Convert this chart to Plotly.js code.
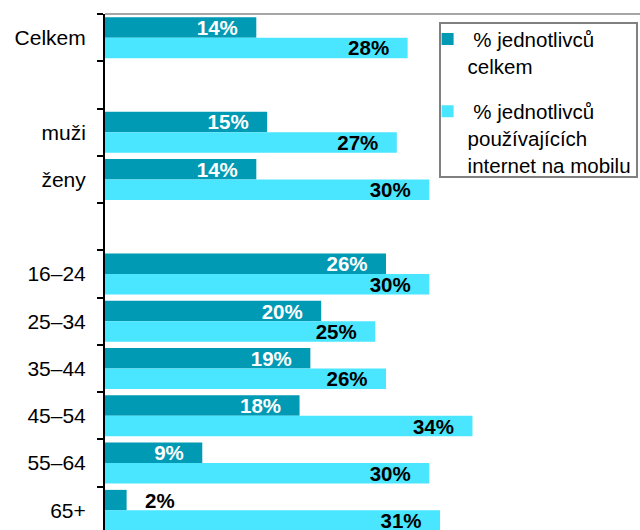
<!DOCTYPE html>
<html>
<head>
<meta charset="utf-8">
<script src="https://cdn.plot.ly/plotly-3.0.1.min.js"></script>
<style>
html,body{margin:0;padding:0;overflow:hidden;background:#fff;width:640px;height:530px;}
#chart{width:640px;height:540px;}
</style>
</head>
<body>
<div id="chart"></div>
<script>
// Data
var categories = ["Celkem", " ", "muži", "ženy", "  ", "16–24", "25–34", "35–44", "45–54", "55–64", "65+"];
var totalPct = [14, null, 15, 14, null, 26, 20, 19, 18, 9, 2];
var mobilePct = [28, null, 27, 30, null, 30, 25, 26, 34, 30, 31];
var seriesNames = ["\u00a0% jednotlivců<br>celkem", "\u00a0% jednotlivců<br>používajících<br>internet na mobilu"];

var PAD = "\u00a0\u00a0\u2009";
function labels(vals, posArr) {
  return vals.map(function (v, i) {
    if (v === null) return "";
    return posArr[i] === "outside" ? PAD + v + "%" : v + "%" + PAD;
  });
}
function positions(vals) {
  return vals.map(function (v) { return (v !== null && v < 5) ? "outside" : "inside"; });
}

var posA = positions(totalPct), posB = positions(mobilePct);

var common = {
  type: "bar",
  orientation: "h",
  y: categories,
  insidetextanchor: "end",
  textangle: 0,
  constraintext: "none",
  cliponaxis: false,
  hoverinfo: "skip"
};

var t1 = Object.assign({}, common, {
  name: seriesNames[0],
  x: totalPct,
  text: labels(totalPct, posA),
  textposition: posA,
  marker: {color: "#009AB4"},
  insidetextfont: {family: "Liberation Sans, Arial, sans-serif", size: 20.5, color: "#ffffff", weight: "bold"},
  outsidetextfont: {family: "Liberation Sans, Arial, sans-serif", size: 20.5, color: "#000000", weight: "bold"},
  legendgroup: "a"
});
var t2 = Object.assign({}, common, {
  name: seriesNames[1],
  x: mobilePct,
  text: labels(mobilePct, posB),
  textposition: posB,
  marker: {color: "#4AE5FF"},
  insidetextfont: {family: "Liberation Sans, Arial, sans-serif", size: 20.5, color: "#000000", weight: "bold"},
  outsidetextfont: {family: "Liberation Sans, Arial, sans-serif", size: 20.5, color: "#000000", weight: "bold"},
  legendgroup: "b"
});

var layout = {
  width: 640,
  height: 540,
  margin: {l: 105, r: 0, t: 14, b: 6, pad: 0},
  paper_bgcolor: "#ffffff",
  plot_bgcolor: "#ffffff",
  font: {family: "Liberation Sans, Arial, sans-serif", size: 21, color: "#000000"},
  barmode: "group",
  bargap: 0.133,
  bargroupgap: 0,
  showlegend: true,
  legend: {
    x: 0.603, xanchor: "left",
    y: 0.99, yanchor: "top",
    bgcolor: "rgba(0,0,0,0)",
    borderwidth: 0,
    font: {size: 20.5, color: "#000000"},
    valign: "top",
    tracegroupgap: 16,
    traceorder: "grouped"
  },
  xaxis: {
    range: [0, 49.5],
    showgrid: false, zeroline: false, showline: false,
    showticklabels: false, ticks: "", fixedrange: true
  },
  yaxis: {
    type: "category",
    autorange: "reversed",
    showgrid: false, zeroline: false,
    showline: true, linecolor: "#000000", linewidth: 2,
    ticks: "outside", ticklen: 6, tickwidth: 2, tickcolor: "#000000",
    tickson: "boundaries",
    ticklabelstandoff: 13,
    tickfont: {size: 21, color: "#000000"},
    fixedrange: true
  },
  shapes: [
    {type: "line", xref: "paper", yref: "paper", x0: 0, x1: 1, y0: 1, y1: 1,
     line: {color: "#A6A6A6", width: 2}},
    {type: "rect", xref: "paper", yref: "paper",
     x0: (440 - 105) / 535, x1: (637 - 105) / 535,
     y0: 1 - (177 - 14) / 520, y1: 1 - (23 - 14) / 520,
     line: {color: "#808080", width: 2}, fillcolor: "#ffffff", layer: "below"}
  ]
};

Plotly.newPlot("chart", [t1, t2], layout, {displayModeBar: false, staticPlot: true});
</script>
</body>
</html>
